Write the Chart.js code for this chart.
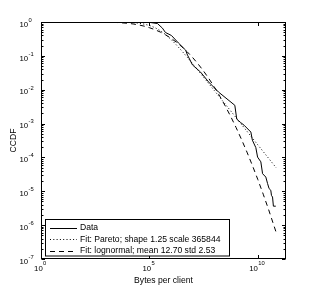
<!DOCTYPE html>
<html><head><meta charset="utf-8">
<script src="https://cdn.jsdelivr.net/npm/chart.js@4"></script>
<style>html,body{margin:0;padding:0;background:#fff}</style>
</head><body>
<canvas id="c" width="315" height="293"></canvas>
<script>
// ---- data (log10 exponents) ----
const dataLogX = [0, 4.0, 4.8, 5.05, 5.37, 5.60, 5.74, 6.02, 6.34, 6.67, 6.76, 6.99, 7.36, 7.73, 8.19, 8.94, 9.03, 9.21, 9.37, 9.68, 9.75, 9.91, 9.99, 10.14, 10.22, 10.37, 10.45, 10.52, 10.60, 10.63, 10.68, 10.72, 10.83];
const dataLogY = [0, -0.004, -0.01, -0.015, -0.045, -0.18, -0.31, -0.40, -0.62, -0.83, -0.98, -1.27, -1.48, -1.77, -2.07, -2.46, -2.87, -2.97, -3.05, -3.25, -3.49, -3.71, -3.99, -4.13, -4.48, -4.58, -4.77, -4.92, -4.97, -5.12, -5.17, -5.44, -5.44];

const fitLogX = [0, 2, 3, 3.5, 4, 4.25, 4.5, 4.75, 5, 5.25, 5.5, 5.75, 6, 6.25, 6.5, 6.75, 7, 7.25, 7.5, 7.75, 8, 8.25, 8.5, 8.75, 9, 9.25, 9.5, 9.75, 10, 10.25, 10.5, 10.85];
const paretoLogY = [0, -0.0001, -0.0012, -0.0037, -0.0117, -0.0205, -0.0356, -0.0611, -0.102, -0.165, -0.2545, -0.3725, -0.516, -0.680, -0.858, -1.045, -1.237, -1.433, -1.630, -1.829, -2.028, -2.228, -2.427, -2.627, -2.827, -3.027, -3.227, -3.427, -3.627, -3.827, -4.027, -4.307];
const lognormLogY = [0, -0.0003, -0.0048, -0.0147, -0.038, -0.0579, -0.085, -0.121, -0.168, -0.225, -0.296, -0.381, -0.482, -0.599, -0.733, -0.884, -1.054, -1.243, -1.450, -1.678, -1.925, -2.194, -2.481, -2.790, -3.119, -3.471, -3.842, -4.236, -4.650, -5.086, -5.542, -6.22];

const seriesNames = ['Data', 'Fit: Pareto; shape 1.25 scale 365844', 'Fit: lognormal; mean 12.70 std 2.53'];
const xTickValues = [1, 1e5, 1e10];
const xTickExponents = ['0', '5', '10'];
const yTickValues = [1, 1e-1, 1e-2, 1e-3, 1e-4, 1e-5, 1e-6, 1e-7];
const yTickExponents = ['0', '-1', '-2', '-3', '-4', '-5', '-6', '-7'];
const xTitle = 'Bytes per client';
const yTitle = 'CCDF';

const FONT = '"Liberation Sans", Arial, Helvetica, sans-serif';
const BASE = '7.8px ' + FONT, EXP = '5.8px ' + FONT;
const toPts = (lx, ly) => lx.map((v, i) => ({x: Math.pow(10, v), y: Math.pow(10, ly[i])}));

const styles = [
  {borderDash: []},
  {borderDash: [1, 2.3]},
  {borderDash: [5, 4]}
];

const deco = {
  id: 'deco',
  afterDraw(chart) {
    const ctx = chart.ctx, a = chart.chartArea, xs = chart.scales.x, ys = chart.scales.y;
    const L = Math.round(a.left) + 0.5, R = Math.round(a.right) - 0.5;
    const T = Math.round(a.top) + 0.5, B = Math.round(a.bottom) - 0.5;
    ctx.save();
    ctx.strokeStyle = '#000'; ctx.lineWidth = 1;
    ctx.strokeRect(L, T, R - L, B - T);
    ctx.beginPath();
    for (let e = 0; e >= -7; e--) {
      const base = Math.pow(10, e);
      const py = Math.round(ys.getPixelForValue(base)) + 0.5;
      ctx.moveTo(L, py); ctx.lineTo(L + 3.5, py);
      ctx.moveTo(R, py); ctx.lineTo(R - 3.5, py);
      if (e > -7) {
        for (let m = 2; m <= 9; m++) {
          const pm = Math.round(ys.getPixelForValue(base / 10 * m)) + 0.5;
          ctx.moveTo(L, pm); ctx.lineTo(L + 2, pm);
          ctx.moveTo(R, pm); ctx.lineTo(R - 2, pm);
        }
      }
    }
    xTickValues.forEach(v => {
      const px = Math.round(xs.getPixelForValue(v)) + 0.5;
      ctx.moveTo(px, B); ctx.lineTo(px, B - 3.5);
      ctx.moveTo(px, T); ctx.lineTo(px, T + 3.5);
    });
    ctx.stroke();

    ctx.fillStyle = '#000';
    ctx.textBaseline = 'middle';
    ctx.textAlign = 'left';
    yTickValues.forEach((v, i) => {
      const py = ys.getPixelForValue(v);
      ctx.font = BASE;
      ctx.fillText('10', 19.5, py + 2.5);
      const w = ctx.measureText('10').width;
      ctx.font = EXP;
      ctx.fillText(yTickExponents[i], 19.5 + w + 0.3, py - 1.8);
    });
    xTickValues.forEach((v, i) => {
      const px = xs.getPixelForValue(v);
      ctx.font = BASE;
      const w = ctx.measureText('10').width;
      ctx.font = EXP;
      const we = ctx.measureText(xTickExponents[i]).width;
      const x0 = px - 1 - (w + we) / 2;
      ctx.font = BASE;
      ctx.fillText('10', x0, 268.5);
      ctx.font = EXP;
      ctx.fillText(xTickExponents[i], x0 + w + 0.3, 263.6);
    });

    ctx.font = '8.6px ' + FONT;
    ctx.textAlign = 'center';
    ctx.fillText(xTitle, (a.left + a.right) / 2, 281);
    ctx.save();
    ctx.translate(13.5, (a.top + a.bottom) / 2);
    ctx.rotate(-Math.PI / 2);
    ctx.fillText(yTitle, 0, 0);
    ctx.restore();

    const bx = 45.5, by = 219.5, bw = 184, bh = 36.5;
    ctx.fillStyle = '#fff';
    ctx.fillRect(bx, by, bw, bh);
    ctx.strokeStyle = '#000';
    ctx.strokeRect(bx, by, bw, bh);
    const rows = [227.5, 239.3, 250.8];
    ctx.textAlign = 'left';
    ctx.font = '8.6px ' + FONT;
    seriesNames.forEach((name, i) => {
      ctx.beginPath();
      ctx.setLineDash(styles[i].borderDash);
      ctx.moveTo(50, Math.round(rows[i]) + 0.5);
      ctx.lineTo(77, Math.round(rows[i]) + 0.5);
      ctx.stroke();
      ctx.setLineDash([]);
      ctx.fillStyle = '#000';
      ctx.fillText(name, 80, rows[i]);
    });
    ctx.restore();
  }
};

new Chart(document.getElementById('c'), {
  type: 'line',
  data: {
    datasets: [
      {label: seriesNames[0], data: toPts(dataLogX, dataLogY), borderColor: '#000', borderWidth: 1, pointRadius: 0, tension: 0, fill: false},
      {label: seriesNames[1], data: toPts(fitLogX, paretoLogY), borderColor: '#000', borderWidth: 1, borderDash: styles[1].borderDash, pointRadius: 0, tension: 0, fill: false},
      {label: seriesNames[2], data: toPts(fitLogX, lognormLogY), borderColor: '#000', borderWidth: 1, borderDash: styles[2].borderDash, pointRadius: 0, tension: 0, fill: false}
    ]
  },
  options: {
    responsive: false,
    animation: false,
    devicePixelRatio: 1,
    layout: {padding: {top: 22, right: 29, left: 0, bottom: 0}},
    plugins: {legend: {display: false}, tooltip: {enabled: false}},
    scales: {
      x: {type: 'logarithmic', min: 1, max: 2e11, ticks: {display: false}, grid: {display: false}, border: {display: false},
          afterFit(s) { s.height = 34; }},
      y: {type: 'logarithmic', min: 1e-7, max: 1, ticks: {display: false}, grid: {display: false}, border: {display: false},
          afterFit(s) { s.width = 41; }}
    }
  },
  plugins: [deco]
});
</script>
</body></html>
